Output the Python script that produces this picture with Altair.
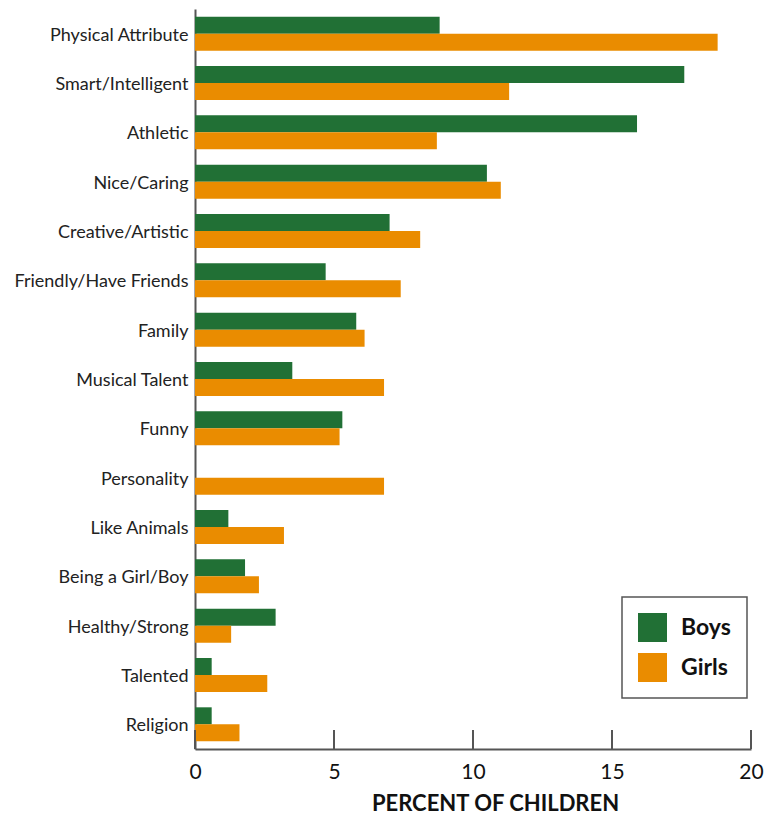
import altair as alt
import pandas as pd

# Reasons children gave, percent of boys and girls
categories = [
    "Physical Attribute", "Smart/Intelligent", "Athletic", "Nice/Caring",
    "Creative/Artistic", "Friendly/Have Friends", "Family", "Musical Talent",
    "Funny", "Personality", "Like Animals", "Being a Girl/Boy",
    "Healthy/Strong", "Talented", "Religion",
]
boys = [8.8, 17.6, 15.9, 10.5, 7.0, 4.7, 5.8, 3.5, 5.3, 0.0, 1.2, 1.8, 2.9, 0.6, 0.6]
girls = [18.8, 11.3, 8.7, 11.0, 8.1, 7.4, 6.1, 6.8, 5.2, 6.8, 3.2, 2.3, 1.3, 2.6, 1.6]
groups = ["Boys", "Girls"]
group_colors = ["#217035", "#EA8C00"]
x_ticks = [0, 5, 10, 15, 20]

rows = []
for c, b, g in zip(categories, boys, girls):
    rows.append({"category": c, "group": "Boys", "percent": b})
    rows.append({"category": c, "group": "Girls", "percent": g})
df = pd.DataFrame(rows)
ticks_df = pd.DataFrame({"t": x_ticks})

W, H = 556, 740
FONT = "Lato"

x_scale = alt.Scale(domain=[0, 20], nice=False, zero=True)

bars = alt.Chart(df).mark_bar().encode(
    y=alt.Y(
        "category:N",
        sort=categories,
        scale=alt.Scale(paddingInner=0.31, paddingOuter=0.155),
        axis=alt.Axis(
            title=None, ticks=False, labelFontSize=18, labelColor="#222222",
            labelPadding=7, labelFont=FONT, labelOffset=2,
            domainColor="#555555", domainWidth=2, labelLimit=250,
        ),
    ),
    yOffset=alt.YOffset("group:N", sort=groups),
    x=alt.X(
        "percent:Q",
        scale=x_scale,
        axis=alt.Axis(
            values=x_ticks, ticks=False, grid=False, labelFontSize=21,
            labelColor="#111111", labelFont=FONT, labelPadding=12,
            labelFlush=False,
            domainColor="#555555", domainWidth=2,
            title="PERCENT OF CHILDREN", titleFontSize=22,
            titleFont=FONT, titleFontWeight="bold", titleColor="#111111",
            titlePadding=11, titleX=300, titleAlign="center",
        ),
    ),
    color=alt.Color(
        "group:N",
        scale=alt.Scale(domain=groups, range=group_colors),
        legend=alt.Legend(
            title=None, orient="none", legendX=427, legendY=588,
            symbolType="square", symbolSize=841, symbolStrokeWidth=0,
            symbolOpacity=1, labelFontSize=23, labelFontWeight="bold",
            labelFont=FONT, labelColor="#111111", labelOffset=14,
            rowPadding=11, padding=16, strokeColor="#555555",
            fillColor="white",
        ),
    ),
)

# inward-pointing tick marks along the x axis
tick_marks = alt.Chart(ticks_df).mark_rule(color="#555555", strokeWidth=2).encode(
    x=alt.X("t:Q", scale=x_scale),
    y=alt.value(H),
    y2=alt.value(H - 19),
)

chart = (
    alt.layer(bars, tick_marks)
    .properties(width=W, height=H, padding={"left": 195, "top": 9, "right": 17, "bottom": 69})
    .configure(autosize=alt.AutoSizeParams(type="none"))
    .configure_view(stroke=None)
    .configure_legend(strokeWidth=1.5, cornerRadius=0)
)

chart.save("out.html", embed_options={"renderer": "svg", "actions": False})
